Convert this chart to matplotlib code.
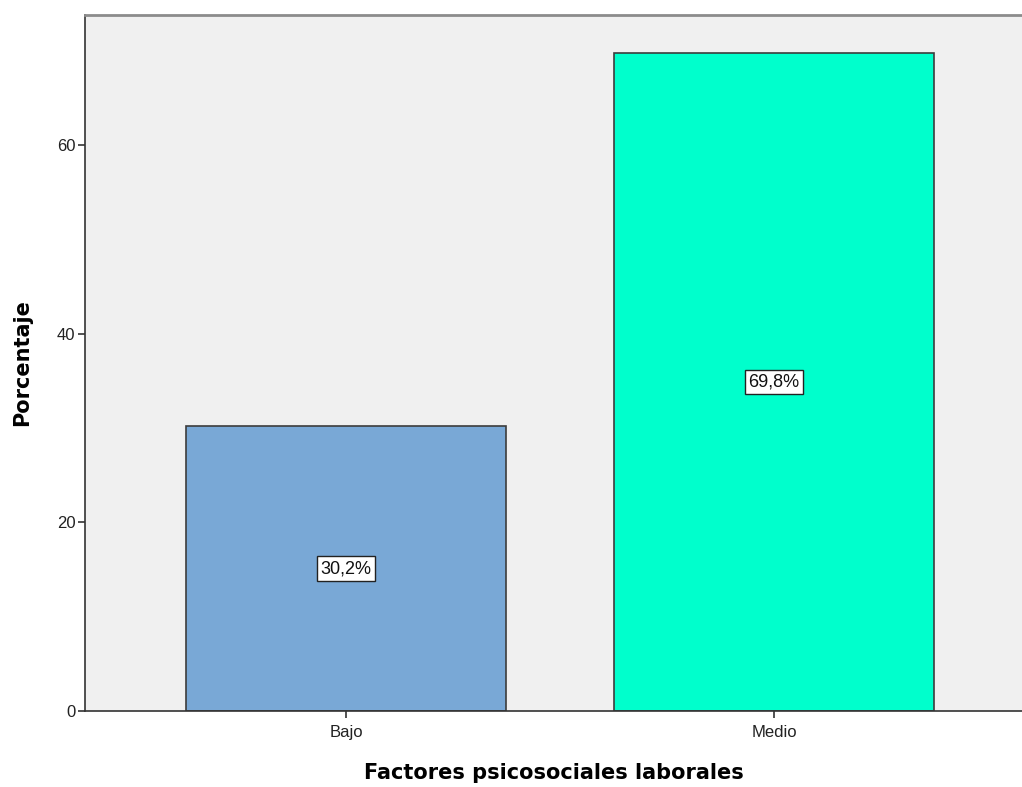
import matplotlib
matplotlib.use("Agg")
import matplotlib.pyplot as plt

# Porcentaje por nivel de factores psicosociales laborales
categorias = ["Bajo", "Medio"]
porcentajes = [30.2, 69.8]
etiquetas = ["30,2%", "69,8%"]
colores = ["#79A8D6", "#00FFCC"]

plt.rcParams["font.family"] = ["Liberation Sans", "DejaVu Sans"]

fig = plt.figure(figsize=(10.22, 7.87), dpi=100)
ax = fig.add_axes([0.0832, 0.0966, 0.9168, 0.8844])
ax.set_facecolor("#F0F0F0")

pos = list(range(len(categorias)))
bars = ax.bar(pos, porcentajes, width=0.748, color=colores,
              edgecolor="#3C3C3C", linewidth=1.2, zorder=2)

for b, val, txt in zip(bars, porcentajes, etiquetas):
    ax.text(b.get_x() + b.get_width() / 2, val / 2, txt,
            ha="center", va="center", fontsize=13, color="#111111",
            bbox=dict(boxstyle="square,pad=0.2", fc="white", ec="#222222", lw=1.0),
            zorder=3)

ax.set_xlim(-0.61, 1.579)
ax.set_ylim(0, 73.8)
ax.set_yticks([0, 20, 40, 60])
ax.set_xticks(pos)
ax.set_xticklabels(categorias)
ax.tick_params(axis="both", labelsize=12, labelcolor="#222222",
               color="#333333", length=5, width=1.2)
ax.tick_params(axis="x", pad=5)
ax.tick_params(axis="y", pad=2)

ax.spines["right"].set_visible(False)
ax.spines["top"].set_color("#8C8C8C")
ax.spines["top"].set_linewidth(2)
for lado in ["left", "bottom"]:
    ax.spines[lado].set_color("#333333")
    ax.spines[lado].set_linewidth(1.2)

ax.set_xlabel("Factores psicosociales laborales", fontsize=15, fontweight="bold",
              family="DejaVu Sans", labelpad=17)
ax.set_ylabel("Porcentaje", fontsize=15, fontweight="bold",
              family="DejaVu Sans", labelpad=18)

fig.savefig("out.png", dpi=100)
